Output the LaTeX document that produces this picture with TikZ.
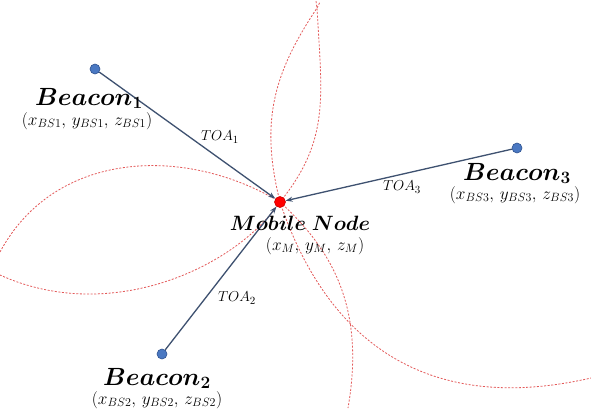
\documentclass[tikz,border=0pt]{standalone}
\usepackage{amsmath,bm}
\usetikzlibrary{arrows.meta}
\definecolor{linec}{HTML}{3E5170}
\definecolor{beaconfill}{HTML}{4A78C2}
\definecolor{beacondraw}{HTML}{2F528F}
\definecolor{dashred}{HTML}{E45A5A}
\tikzset{
  beacon/.style={circle,fill=beaconfill,draw=beacondraw,line width=0.6pt,inner sep=0pt,minimum size=10pt},
  mobile/.style={circle,fill=red,draw=red!80!black,line width=0.6pt,inner sep=0pt,minimum size=11pt},
  link/.style={draw=linec,line width=1.3pt,-{Stealth[length=7pt,width=5pt]}},
  rangecurve/.style={draw=dashred,line width=0.8pt,dash pattern=on 2pt off 1.6pt},
  bigname/.style={font=\fontsize{24}{26}\selectfont,anchor=base,inner sep=0pt},
  coordtext/.style={font=\fontsize{17.5}{19}\selectfont,anchor=base,inner sep=0pt},
  toatext/.style={font=\fontsize{15}{17}\selectfont,inner sep=0pt}
}
\begin{document}
\begin{tikzpicture}[x=1pt,y=-1pt]
\useasboundingbox[fill=white] (0,0) rectangle (591,408);
% dashed range curves
\coordinate (top) at (317,8);
\draw[rangecurve] (280,202) .. controls (260,122) and (273,74) .. (top) -- (320,2);
\draw[rangecurve] (280,202) .. controls (330,140) and (322,98) .. (top) -- (316,1);
\draw[rangecurve] (280,202) .. controls (185,145) and (55,150) .. (0,252);
\draw[rangecurve] (280,202) .. controls (235,268) and (110,325) .. (0,275);
\draw[rangecurve] (280,202) .. controls (328,345) and (430,415) .. (591,378);
\draw[rangecurve] (280,202) .. controls (330,248) and (366,305) .. (348,408);
% nodes
\node[beacon] (b1) at (95,69) {};
\node[beacon] (b2) at (162,354) {};
\node[beacon] (b3) at (517,148) {};
\node[mobile] (m) at (280,202) {};
% connectors
\draw[link] (b1) -- (m);
\draw[link] (b2) -- (m);
\draw[link] (b3) -- (m);
% labels
\node[bigname] (l1) at (89,105) {$\bm{Beacon_1}$};
\node[coordtext] (c1) at (87,125) {$(x_{BS1},\, y_{BS1},\, z_{BS1})$};
\node[bigname] (l3) at (517,180) {$\bm{Beacon_3}$};
\node[coordtext] (c3) at (515,199) {$(x_{BS3},\, y_{BS3},\, z_{BS3})$};
\node[bigname,font=\fontsize{22}{24}\selectfont] (lm) at (300,230) {$\bm{Mobile\;Node}$};
\node[coordtext] (cm) at (315,250) {$(x_{M},\, y_{M},\, z_{M})$};
\node[bigname] (l2) at (157,385) {$\bm{Beacon_2}$};
\node[coordtext] (c2) at (157,404) {$(x_{BS2},\, y_{BS2},\, z_{BS2})$};
\node[toatext] (t1) at (220,137) {$TOA_1$};
\node[toatext] (t3) at (402,187) {$TOA_3$};
\node[toatext] (t2) at (237,298) {$TOA_2$};
\end{tikzpicture}
\end{document}
